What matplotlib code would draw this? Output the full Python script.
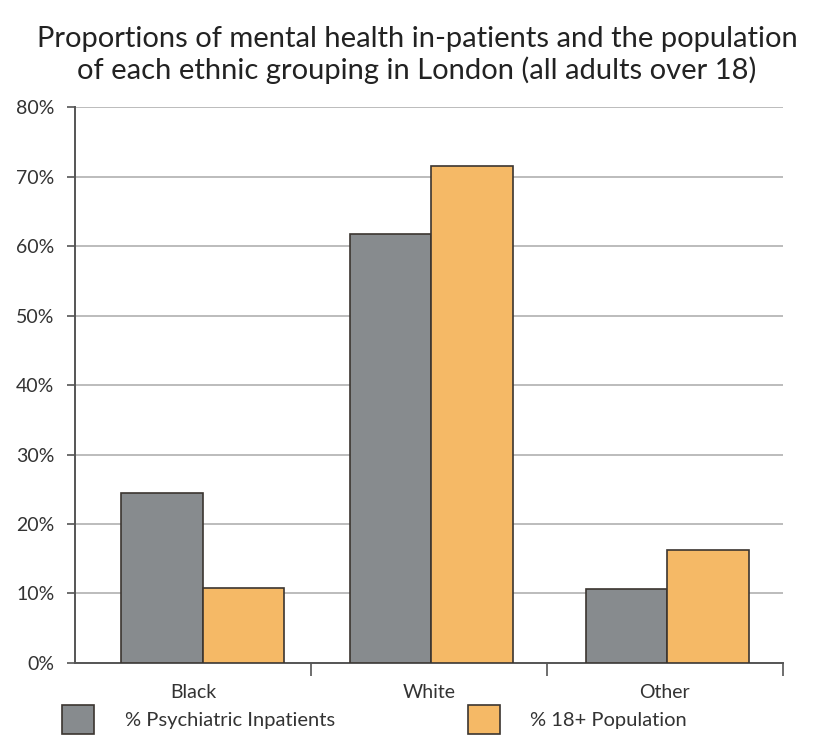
import matplotlib.pyplot as plt
import numpy as np
from matplotlib.patches import Patch

plt.rcParams['font.family'] = ['Lato', 'DejaVu Sans']

groups = ['Black', 'White', 'Other']
inpatients = [24.4, 61.8, 10.7]
population = [10.8, 71.6, 16.3]
series_names = ['% Psychiatric Inpatients', '% 18+ Population']

gray = '#878b8e'
orange = '#f5b966'
edge = '#3b3530'

fig = plt.figure(figsize=(8.18, 7.55), dpi=100)
ax = fig.add_axes([0.092, 0.122, 0.865, 0.736])

# bar pairs, first pair sits a little right of its slot
x = np.arange(len(groups)) + np.array([0.04, 0.01, 0.01])
w = 0.345
ax.bar(x - w / 2, inpatients, w, color=gray, edgecolor=edge, linewidth=1.2, zorder=3)
ax.bar(x + w / 2, population, w, color=orange, edgecolor=edge, linewidth=1.2, zorder=3)

ax.set_xlim(-0.5, 2.5)
ax.set_ylim(0, 80)
ax.set_yticks(np.arange(0, 81, 10))
ax.set_yticklabels([f'{v}%' for v in range(0, 81, 10)], fontsize=14, color='#333333')
ax.yaxis.grid(True, color='#b0b0b0', linewidth=1.2, zorder=0)
ax.set_axisbelow(True)

# category names centred, tick marks between categories
ax.set_xticks(np.arange(len(groups)))
ax.set_xticklabels(groups, fontsize=14, color='#333333')
ax.tick_params(axis='x', length=0, pad=15)
ax.set_xticks([0.5, 1.5, 2.5], minor=True)
ax.tick_params(axis='x', which='minor', length=9, width=1.2, color='#555555', direction='out')
ax.tick_params(axis='y', length=6, width=1.2, color='#555555', pad=9)

for s in ['top', 'right']:
    ax.spines[s].set_visible(False)
for s in ['left', 'bottom']:
    ax.spines[s].set_color('#555555')
    ax.spines[s].set_linewidth(1.4)

fig.text(0.51, 0.927, 'Proportions of mental health in-patients and the population\nof each ethnic grouping in London (all adults over 18)',
         ha='center', va='center', fontsize=21, color='#222222', linespacing=1.22)

handles = [Patch(facecolor=gray, edgecolor=edge, linewidth=1.2),
           Patch(facecolor=orange, edgecolor=edge, linewidth=1.2)]
fig.legend(handles, series_names, loc='center left', bbox_to_anchor=(0.076, 0.047),
           ncol=2, frameon=False, fontsize=14.5, handlelength=1.6, handleheight=1.9,
           columnspacing=6.6, handletextpad=1.5, borderpad=0, borderaxespad=0,
           labelcolor='#333333')

plt.savefig('out.png', dpi=100)
